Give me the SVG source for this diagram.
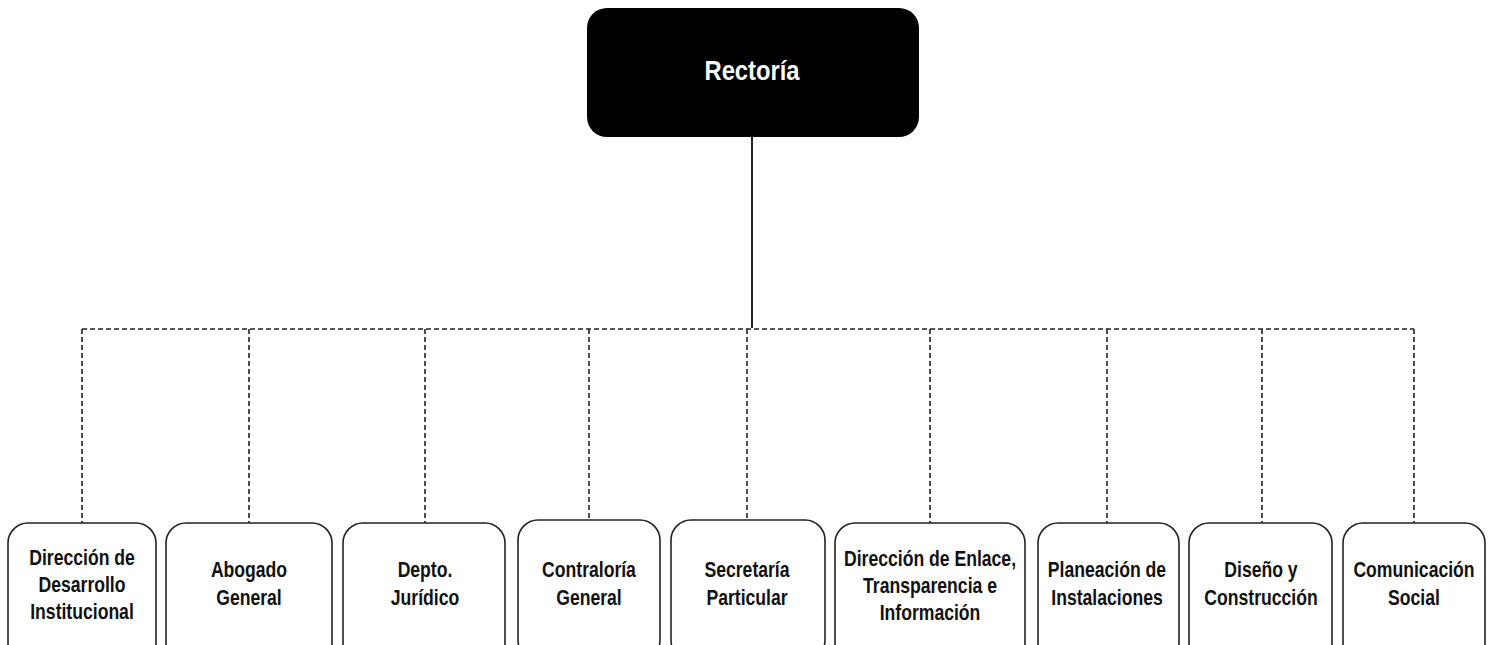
<svg xmlns="http://www.w3.org/2000/svg" width="1493" height="645" viewBox="0 0 1493 645">
<style>
.box{fill:#fff;stroke:#222;stroke-width:1.6}
.t{font-family:"Liberation Sans",Arial,sans-serif;font-weight:bold;font-size:22px;fill:#111;text-anchor:middle}
.dash{stroke:#222;stroke-width:1.6;stroke-dasharray:5,3;fill:none}
</style>
<rect width="1493" height="645" fill="#fff"/>
<g id="connectors">
<line x1="752" y1="137" x2="752" y2="328" stroke="#222" stroke-width="2"/>
<line class="dash" x1="82" y1="329" x2="1414" y2="329"/>
<line class="dash" x1="82" y1="329" x2="82" y2="523"/>
<line class="dash" x1="249" y1="329" x2="249" y2="523"/>
<line class="dash" x1="425" y1="329" x2="425" y2="523"/>
<line class="dash" x1="589" y1="329" x2="589" y2="520"/>
<line class="dash" x1="747" y1="329" x2="747" y2="520"/>
<line class="dash" x1="930" y1="329" x2="930" y2="523"/>
<line class="dash" x1="1107" y1="329" x2="1107" y2="523"/>
<line class="dash" x1="1262" y1="329" x2="1262" y2="523"/>
<line class="dash" x1="1414" y1="329" x2="1414" y2="523"/>
</g>
<g id="rectoria">
<rect x="587" y="8" width="332" height="129" rx="20" fill="#000"/>
<g transform="translate(752,0) scale(0.88,1)"><text x="0" y="80" style="font-family:'Liberation Sans',Arial,sans-serif;font-weight:bold;font-size:27px;fill:#fff;text-anchor:middle">Rectoría</text></g>
</g>
<g id="n1"><rect class="box" x="8" y="523" width="148" height="140" rx="20"/>
<g transform="translate(82,0) scale(0.8,1)"><text class="t" x="0" y="565">Dirección de</text><text class="t" x="0" y="592">Desarrollo</text><text class="t" x="0" y="619">Institucional</text></g></g>
<g id="n2"><rect class="box" x="166" y="523" width="166" height="140" rx="20"/>
<g transform="translate(249,0) scale(0.8,1)"><text class="t" x="0" y="577">Abogado</text><text class="t" x="0" y="605">General</text></g></g>
<g id="n3"><rect class="box" x="343" y="523" width="162" height="140" rx="20"/>
<g transform="translate(425,0) scale(0.8,1)"><text class="t" x="0" y="577">Depto.</text><text class="t" x="0" y="605">Jurídico</text></g></g>
<g id="n4"><rect class="box" x="518" y="520" width="142" height="140" rx="20"/>
<g transform="translate(589,0) scale(0.8,1)"><text class="t" x="0" y="577">Contraloría</text><text class="t" x="0" y="605">General</text></g></g>
<g id="n5"><rect class="box" x="671" y="520" width="154" height="140" rx="20"/>
<g transform="translate(747,0) scale(0.8,1)"><text class="t" x="0" y="577">Secretaría</text><text class="t" x="0" y="605">Particular</text></g></g>
<g id="n6"><rect class="box" x="835" y="523" width="190" height="140" rx="20"/>
<g transform="translate(930,0) scale(0.8,1)"><text class="t" x="0" y="566">Dirección de Enlace,</text><text class="t" x="0" y="593">Transparencia e</text><text class="t" x="0" y="620">Información</text></g></g>
<g id="n7"><rect class="box" x="1038" y="523" width="141" height="140" rx="20"/>
<g transform="translate(1107,0) scale(0.8,1)"><text class="t" x="0" y="577">Planeación de</text><text class="t" x="0" y="605">Instalaciones</text></g></g>
<g id="n8"><rect class="box" x="1189" y="523" width="143" height="140" rx="20"/>
<g transform="translate(1261,0) scale(0.8,1)"><text class="t" x="0" y="577">Diseño y</text><text class="t" x="0" y="605">Construcción</text></g></g>
<g id="n9"><rect class="box" x="1343" y="523" width="142" height="140" rx="20"/>
<g transform="translate(1414,0) scale(0.8,1)"><text class="t" x="0" y="577">Comunicación</text><text class="t" x="0" y="605">Social</text></g></g>
</svg>
